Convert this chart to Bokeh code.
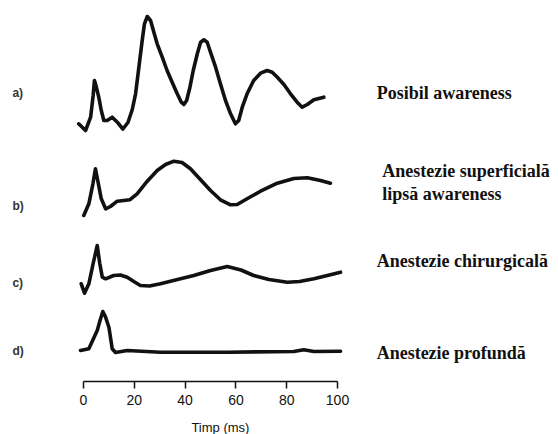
from bokeh.plotting import figure
from bokeh.models import Range1d, LinearAxis, FixedTicker, ColumnDataSource
from bokeh.core.properties import value
from bokeh.embed import file_html
from bokeh.resources import INLINE

# Time (ms) and amplitude (arbitrary units) for each evoked-response trace
t_a = [-1.9, 0.8, 2.8, 3.8, 4.3, 4.9, 6.0, 7.0, 8.0, 9.3, 11.3, 13.3, 15.5, 17.5, 19.2,
       20.5, 21.8, 23.1, 24.0, 25.1, 26.4, 27.7, 29.0, 31.0, 32.9, 34.9, 36.9, 38.5, 39.5,
       40.6, 41.9, 43.2, 44.8, 46.1, 47.4, 48.7, 50.0, 52.0, 53.9, 55.9, 57.9, 59.8, 61.1,
       62.5, 64.4, 67.0, 69.7, 72.3, 74.3, 76.3, 78.9, 81.5, 84.1, 86.1, 88.1, 90.7, 94.6]
amp_a = [1.7, -5, 8.3, 30, 45, 40, 28.3, 15, 5, 5, 8.3, 3.3, -3.5, 3, 16,
         31.7, 58.3, 85, 101.7, 109, 105, 93.3, 81.7, 68.3, 55, 43.3, 31.7, 23.3, 21,
         25, 38.3, 55, 71.7, 83.3, 85.7, 83.3, 73.3, 58.3, 41.7, 25, 11.7, 1.7, 5,
         18.3, 31.7, 45, 52.3, 55, 53.3, 48.3, 41, 31.7, 23.3, 18.3, 21, 25.7, 28.3]

t_b = [0.1, 2.1, 3.7, 4.7, 5.6, 7.0, 8.7, 10.6, 13.3, 15.9, 18.2, 21.1, 25.1, 29.0,
       32.3, 35.6, 38.8, 42.1, 46.1, 50.0, 53.9, 57.9, 60.5, 64.4, 69.7, 76.3, 82.8,
       88.1, 93.3, 97.2]
amp_b = [-5, 6.7, 26.7, 41.7, 30, 11.7, 1.7, 4, 9.3, 10, 10.7, 16.7, 29.3, 40,
         46, 49.3, 48, 41.7, 30.7, 20, 10.7, 5.7, 6, 11.7, 19.3, 27.3, 32,
         32.7, 30, 27.3]

t_c = [-0.9, 0.4, 2.1, 3.8, 5.4, 6.4, 7.4, 8.7, 11.9, 14.5, 17.2, 19.8, 22.4, 26.0,
       30.3, 37.0, 43.4, 50.0, 56.6, 62.0, 67.0, 73.0, 80.2, 85.0, 90.7, 96.0, 101.2]
amp_c = [-0.3, -9.7, -0.3, 20, 38, 20, 6.3, 4.7, 8, 8.5, 6.3, 2, -2, -2.5,
         -0.3, 4, 8, 13, 17, 13.5, 8, 4, 1.3, 2, 4.7, 8, 11.3]

t_d = [-1.2, 2.1, 5.4, 6.5, 7.6, 8.6, 10.0, 11.3, 12.6, 17.2, 30.3, 56.6, 82.8, 86.7,
       90.7, 101.2]
amp_d = [0, 1.7, 20, 30, 39, 34, 23.3, 1.7, -2, 0, -1.7, -1.7, -1, 0.7, -1, -0.7]

letters = ["a)", "b)", "c)", "d)"]
descriptions = ["Posibil awareness", "Anestezie superficială", "lipsă awareness",
                "Anestezie chirurgicală", "Anestezie profundă"]
time_ticks = [0, 20, 40, 60, 80, 100]
x_title = ["Timp (ms)"]

# layout: vertical baseline of each trace (plot units, stacked downward)
baselines = [-125, -210, -283, -350]
letter_y = [-92, -205, -282, -350]
desc_y = [-92, -170, -193, -260, -352]
desc_x = [115.4, 117.6, 117.6, 115.4, 115.4]

p = figure(width=558, height=434, output_backend="svg", toolbar_location=None,
           x_range=Range1d(-32.68, 187.0), y_range=Range1d(-434, 0),
           x_axis_location=None, y_axis_location=None,
           min_border_left=0, min_border_right=0, min_border_top=0, min_border_bottom=0)
p.outline_line_color = None
p.xgrid.visible = False
p.ygrid.visible = False
p.background_fill_color = "white"

traces = [(t_a, amp_a), (t_b, amp_b), (t_c, amp_c), (t_d, amp_d)]
for (tt, aa), base in zip(traces, baselines):
    p.line(tt, [v + base for v in aa], line_color="#111111", line_width=3.6,
           line_join="round", line_cap="round")

src_l = ColumnDataSource(dict(x=[-28.0] * 4, y=letter_y, text=letters))
p.text("x", "y", text="text", source=src_l, text_font=value("Liberation Sans"),
       text_font_style="bold", text_font_size="12px", text_color="#333333",
       text_baseline="middle", text_align="left")

src_d = ColumnDataSource(dict(x=desc_x, y=desc_y, text=descriptions))
p.text("x", "y", text="text", source=src_d, text_font=value("Liberation Serif"),
       text_font_style="bold", text_font_size="18px", text_color="#111111",
       text_baseline="middle", text_align="left")

ax = LinearAxis(ticker=FixedTicker(ticks=time_ticks), bounds=(0, 100))
ax.fixed_location = -381
ax.major_label_text_font = "Liberation Sans"
ax.major_label_text_font_size = "14px"
ax.major_label_standoff = 6
ax.major_tick_in = 0
ax.major_tick_out = 7
ax.minor_tick_line_color = None
ax.axis_line_width = 1.5
ax.major_tick_line_width = 1.5
ax.axis_line_color = "#111111"
ax.major_tick_line_color = "#111111"
ax.major_label_text_color = "#111111"
p.add_layout(ax, "below")

src_t = ColumnDataSource(dict(x=[53.9], y=[-427], text=x_title))
p.text("x", "y", text="text", source=src_t, text_font=value("Liberation Sans"),
       text_font_size="13px", text_color="#111111",
       text_baseline="middle", text_align="center")

open("out.html", "w").write(file_html(p, INLINE))
